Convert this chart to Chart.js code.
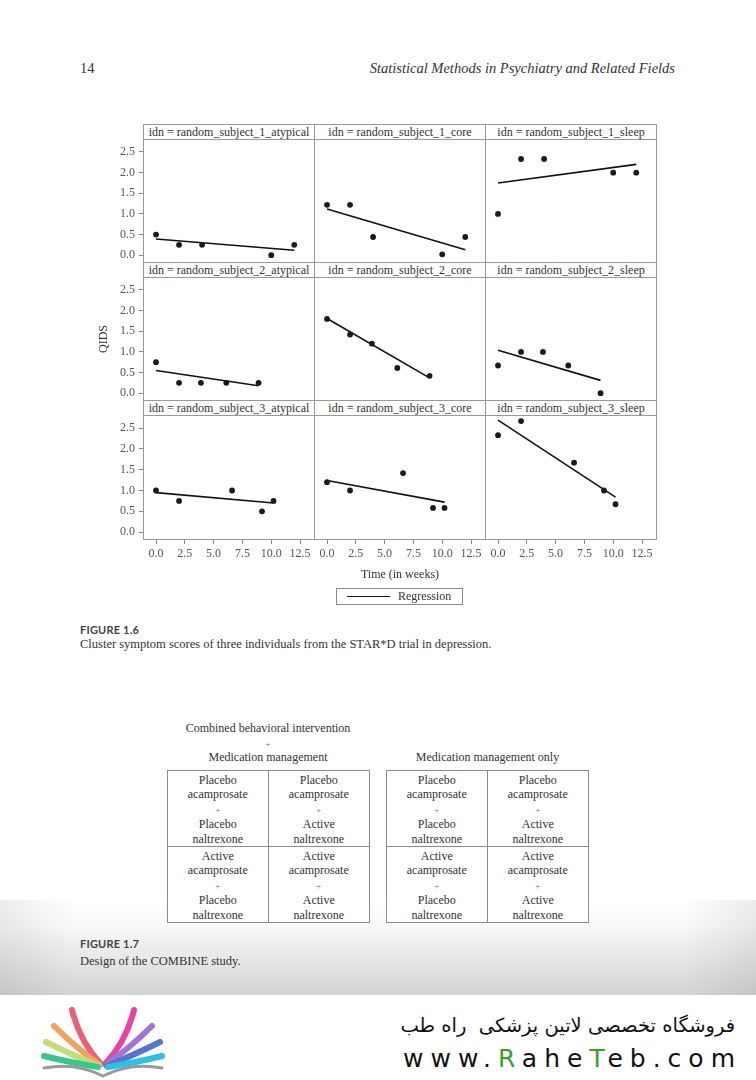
<!DOCTYPE html>
<html>
<head>
<meta charset="utf-8">
<script src="https://cdn.jsdelivr.net/npm/chart.js@4.4.0/dist/chart.umd.min.js"></script>
<style>
    body { margin: 0; background: #fff; }
    #page { position: relative; width: 756px; height: 1080px; overflow: hidden; font-family: 'Liberation Serif', serif; color: #333; }
    .t { position: absolute; white-space: nowrap; }
    canvas { position: absolute; }
    .strip { position: absolute; box-sizing: border-box; height: 16px; width: 172px; border: 1px solid #9a9a9a; font-size: 12px; line-height: 14px; text-align: center; color: #333; background: #fff; }
    .grid2 { position: absolute; box-sizing: border-box; width: 203px; height: 153px; border: 1px solid #8c8c8c; display: grid; grid-template-columns: 1fr 1fr; grid-template-rows: 76px 1fr; background: #fff; }
    .cell { font-size: 12px; line-height: 14.4px; text-align: center; padding-top: 2px; color: #333; }
    .cell.l { border-right: 1px solid #8c8c8c; }
    .cell.u { border-bottom: 1px solid #8c8c8c; }
    .plus { font-size: 9px; color: #777; }
</style>
</head>
<body>
<div id="page">
    <div class="t" style="left:0;top:900px;width:756px;height:95px;background:linear-gradient(#fff 0%, #fafafa 25%, #e8e8e8 60%, #d4d4d4 100%);"></div>
    <div class="t" style="left:0;top:900px;width:756px;height:95px;background:linear-gradient(to right, rgba(0,0,0,0.07), rgba(0,0,0,0) 10%, rgba(0,0,0,0) 90%, rgba(0,0,0,0.07));"></div>

    <div class="t" style="left:80px;top:60px;font-size:14.5px;">14</div>
    <div class="t" style="right:81px;top:60px;font-size:14.5px;font-style:italic;">Statistical Methods in Psychiatry and Related Fields</div>

    <div id="figure"></div>

    <div class="t" style="left:336px;top:588px;width:127px;height:17px;box-sizing:border-box;border:1px solid #8c8c8c;"></div>
    <div class="t" style="left:347px;top:596px;width:43px;height:0;border-top:1.5px solid #111;"></div>
    <div class="t" style="left:398px;top:589px;font-size:12px;line-height:15px;">Regression</div>

    <div class="t" style="left:80px;top:623px;font-family:Lato,sans-serif;font-weight:bold;font-size:11px;letter-spacing:0.2px;color:#444;">FIGURE 1.6</div>
    <div class="t" style="left:80px;top:637px;font-size:12.5px;">Cluster symptom scores of three individuals from the STAR*D trial in depression.</div>

    <div class="t" style="left:168px;width:200px;top:721px;font-size:12px;text-align:center;">Combined behavioral intervention</div>
    <div class="t" style="left:168px;width:200px;top:739px;font-size:9px;line-height:10px;color:#777;text-align:center;">+</div>
    <div class="t" style="left:168px;width:200px;top:750px;font-size:12px;text-align:center;">Medication management</div>
    <div class="t" style="left:386px;width:203px;top:750px;font-size:12px;text-align:center;">Medication management only</div>
    <div id="design"></div>

    <div class="t" style="left:80px;top:937px;font-family:Lato,sans-serif;font-weight:bold;font-size:11px;letter-spacing:0.2px;color:#444;">FIGURE 1.7</div>
    <div class="t" style="left:80px;top:954px;font-size:12.5px;">Design of the COMBINE study.</div>

    <svg class="t" style="left:38px;top:1004px;" width="130" height="76" viewBox="0 0 130 76">
        <g fill="none" stroke-linecap="round">
            <path d="M63,60 Q42,38 34,6" stroke="#e8607a" stroke-width="6"/>
            <path d="M62,61 Q36,42 16,22" stroke="#f2a25c" stroke-width="6"/>
            <path d="M61,62 Q32,50 8,38" stroke="#c4dc78" stroke-width="6"/>
            <path d="M60,63 Q30,58 6,52" stroke="#34c88e" stroke-width="6"/>
            <path d="M67,60 Q88,38 96,6" stroke="#e444a4" stroke-width="6"/>
            <path d="M68,61 Q94,42 114,22" stroke="#a274d4" stroke-width="6"/>
            <path d="M69,62 Q98,50 122,38" stroke="#5474d2" stroke-width="6"/>
            <path d="M70,63 Q100,58 124,52" stroke="#2cc0e2" stroke-width="6"/>
            <path d="M6,64 Q38,58 65,72 Q92,58 124,64" stroke="#9a9a9a" stroke-width="3"/>
        </g>
    </svg>
    <div class="t" style="right:21px;top:1014px;font-family:'DejaVu Sans',sans-serif;font-size:19.5px;direction:rtl;color:#111;">فروشگاه تخصصی لاتین پزشکی&nbsp; راه طب</div>
    <div class="t" style="right:14px;top:1044px;font-family:'DejaVu Sans',sans-serif;font-size:25px;letter-spacing:7px;color:#111;">www.<span style="color:#3c9c2c">R</span>ahe<span style="color:#3c9c2c">T</span>eb.com</div>
</div>

<script>
// time in weeks for each subject
const weeks1 = [0, 2, 4, 10, 12];
const weeks2 = [0, 2, 3.9, 6.1, 8.9];
const weeks3 = [0, 2, 6.6, 9.2, 10.2];

// QIDS cluster scores
const atypical1 = [0.5, 0.25, 0.25, 0, 0.25];
const core1 = [1.22, 1.22, 0.44, 0.02, 0.44];
const sleep1 = [1.0, 2.33, 2.33, 2.0, 2.0];

const atypical2 = [0.75, 0.25, 0.25, 0.25, 0.25];
const core2 = [1.8, 1.42, 1.2, 0.61, 0.42];
const sleep2 = [0.67, 1.0, 1.0, 0.67, 0.0];

const atypical3 = [1.0, 0.75, 1.0, 0.5, 0.75];
const core3 = [1.2, 1.0, 1.42, 0.58, 0.58];
const sleep3 = [2.33, 2.67, 1.67, 1.0, 0.67];

// regression line values at first and last week
const fitAtypical1 = [0.39, 0.12];
const fitCore1 = [1.12, 0.13];
const fitSleep1 = [1.75, 2.2];
const fitAtypical2 = [0.55, 0.18];
const fitCore2 = [1.81, 0.37];
const fitSleep2 = [1.04, 0.31];
const fitAtypical3 = [0.95, 0.7];
const fitCore3 = [1.24, 0.72];
const fitSleep3 = [2.69, 0.84];

const clusters = ['atypical', 'core', 'sleep'];
const xTicks = [0, 2.5, 5, 7.5, 10, 12.5];
const yTicks = [0, 0.5, 1, 1.5, 2, 2.5];

const rows = [
    { weeks: weeks1, scores: [atypical1, core1, sleep1], fits: [fitAtypical1, fitCore1, fitSleep1] },
    { weeks: weeks2, scores: [atypical2, core2, sleep2], fits: [fitAtypical2, fitCore2, fitSleep2] },
    { weeks: weeks3, scores: [atypical3, core3, sleep3], fits: [fitAtypical3, fitCore3, fitSleep3] }
];

// layout of the facet grid (page pixels)
const COL_X = [143, 314, 485];
const ROW_Y = [139, 277, 415];
const PANEL_W = 172;
const PANEL_H = [124, 124, 125];
const Y_AXIS_W = 48;
const X_AXIS_H = 42;

const serif = "'Liberation Serif', serif";
Chart.defaults.font.family = serif;
Chart.defaults.color = '#555';

const framePlugin = {
    id: 'frame',
    beforeDatasetsDraw(chart) {
        const a = chart.chartArea;
        const ctx = chart.ctx;
        ctx.save();
        ctx.strokeStyle = '#9a9a9a';
        ctx.lineWidth = 1;
        ctx.strokeRect(a.left + 0.5, a.top + 0.5, a.right - a.left - 1, a.bottom - a.top - 1);
        ctx.restore();
    }
};

// keep the plot area exactly the panel size
function fixAxis(size, key, shown) {
    return s => {
        s[key] = shown ? size : 0;
        s.paddingTop = 0;
        s.paddingBottom = 0;
        s.paddingLeft = 0;
        s.paddingRight = 0;
    };
}

const fig = document.getElementById('figure');

rows.forEach((row, r) => {
    row.scores.forEach((scores, c) => {
        const strip = document.createElement('div');
        strip.className = 'strip';
        strip.style.left = COL_X[c] + 'px';
        strip.style.top = (ROW_Y[r] - 15) + 'px';
        strip.textContent = `idn = random_subject_${r + 1}_${clusters[c]}`;

        const showY = c === 0;
        const showX = r === 2;
        const w = PANEL_W + (showY ? Y_AXIS_W : 0);
        const h = PANEL_H[r] + (showX ? X_AXIS_H : 0);
        const canvas = document.createElement('canvas');
        canvas.width = w;
        canvas.height = h;
        canvas.style.width = w + 'px';
        canvas.style.height = h + 'px';
        canvas.style.left = (COL_X[c] - (showY ? Y_AXIS_W : 0)) + 'px';
        canvas.style.top = ROW_Y[r] + 'px';
        fig.appendChild(canvas);
        fig.appendChild(strip);

        const fit = row.fits[c];
        const last = row.weeks.length - 1;

        new Chart(canvas.getContext('2d'), {
            type: 'scatter',
            data: {
                datasets: [
                    {
                        data: row.weeks.map((x, i) => ({ x: x, y: scores[i] })),
                        backgroundColor: '#1a1a1a',
                        borderColor: '#1a1a1a',
                        pointRadius: 2.9,
                        pointBorderWidth: 0
                    },
                    {
                        data: [{ x: row.weeks[0], y: fit[0] }, { x: row.weeks[last], y: fit[1] }],
                        showLine: true,
                        borderColor: '#111',
                        borderWidth: 1.6,
                        pointRadius: 0
                    }
                ]
            },
            options: {
                responsive: false,
                animation: false,
                devicePixelRatio: 1,
                layout: { padding: 0, autoPadding: false },
                scales: {
                    x: {
                        type: 'linear',
                        min: -1.13,
                        max: 13.8,
                        display: showX,
                        afterBuildTicks: s => { s.ticks = xTicks.map(v => ({ value: v })); },
                        afterFit: fixAxis(X_AXIS_H, 'height', showX),
                        ticks: { autoSkip: false, maxRotation: 0, padding: 3, color: '#555', font: { family: serif, size: 12 }, callback: v => v.toFixed(1) },
                        grid: { display: true, drawOnChartArea: false, drawTicks: true, tickLength: 4, color: '#8a8a8a' },
                        border: { display: false },
                        title: { display: showX && c === 1, text: 'Time (in weeks)', color: '#333', font: { family: serif, size: 12 }, padding: { top: 4, bottom: 0 } }
                    },
                    y: {
                        type: 'linear',
                        min: -0.19,
                        max: 2.815,
                        display: showY,
                        afterBuildTicks: s => { s.ticks = yTicks.map(v => ({ value: v })); },
                        afterFit: fixAxis(Y_AXIS_W, 'width', showY),
                        ticks: { autoSkip: false, padding: 4, color: '#555', font: { family: serif, size: 12 }, callback: v => v.toFixed(1) },
                        grid: { display: true, drawOnChartArea: false, drawTicks: true, tickLength: 4, color: '#8a8a8a' },
                        border: { display: false },
                        title: { display: showY && r === 1, text: 'QIDS', color: '#333', font: { family: serif, size: 12 }, padding: { top: 2, bottom: 0 } }
                    }
                },
                plugins: { legend: { display: false }, tooltip: { enabled: false } }
            },
            plugins: [framePlugin]
        });
    });
});

// COMBINE design grids
const designTitles = [
    ['Placebo', 'acamprosate', '+', 'Placebo', 'naltrexone'],
    ['Placebo', 'acamprosate', '+', 'Active', 'naltrexone'],
    ['Active', 'acamprosate', '+', 'Placebo', 'naltrexone'],
    ['Active', 'acamprosate', '+', 'Active', 'naltrexone']
];
const design = document.getElementById('design');
[167, 386].forEach(left => {
    const g = document.createElement('div');
    g.className = 'grid2';
    g.style.left = left + 'px';
    g.style.top = '770px';
    designTitles.forEach((lines, i) => {
        const cell = document.createElement('div');
        cell.className = 'cell' + (i % 2 === 0 ? ' l' : '') + (i < 2 ? ' u' : '');
        cell.innerHTML = lines.map(s => s === '+' ? '<span class="plus">+</span>' : s).join('<br>');
        g.appendChild(cell);
    });
    design.appendChild(g);
});
</script>
</body>
</html>
